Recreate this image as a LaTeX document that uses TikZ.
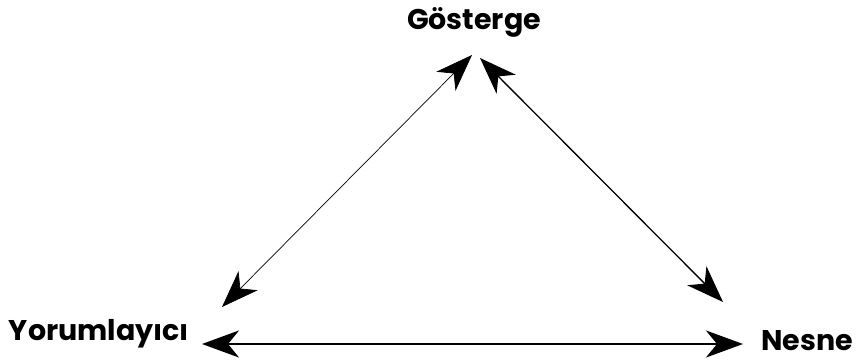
\documentclass[tikz,border=0pt]{standalone}
\usepackage{fontspec}
\setmainfont{Poppins}
\usetikzlibrary{positioning,arrows.meta}

\begin{document}
\begin{tikzpicture}[x=1pt, y=-1pt,
    corner/.style={font=\bfseries\fontsize{28.5}{31}\selectfont, inner sep=0pt, anchor=base},
    bigtip/.tip={Stealth[length=37pt, width=27pt, inset=11pt]}]
  \useasboundingbox (0,0) rectangle (859,363);

  % the three corners
  \node[corner] (gosterge) at (474,30) {Gösterge};
  \node[corner] (yorum) at (99,340) {Yorumlayıcı};
  \node[corner] (nesne) at (807,350) {Nesne};

  % arrow ends
  \coordinate (gL) at (472,55);
  \coordinate (gR) at (480,58);
  \coordinate (yD) at (222,307);
  \coordinate (yH) at (202,344);
  \coordinate (nD) at (723,302);
  \coordinate (nH) at (743,344);

  \draw[bigtip-bigtip, line width=0.7pt] (yD) -- (gL);
  \draw[bigtip-bigtip, line width=1.3pt] (gR) -- (nD);
  \draw[bigtip-bigtip, line width=2.2pt] (yH) -- (nH);
\end{tikzpicture}
\end{document}
